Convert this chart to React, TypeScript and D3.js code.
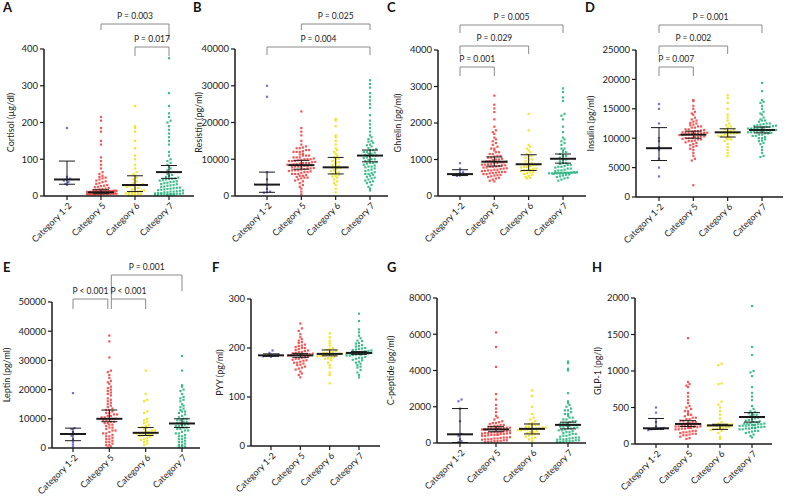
import React from "react";
import * as d3 from "d3";

// ---------- categories & ticks ----------
const categories = ["Category 1-2", "Category 5", "Category 6", "Category 7"];

// ---------- A: Cortisol ----------
const cortisolTicks = [0, 100, 200, 300, 400];
const cortisol12 = [185, 52, 47, 45, 42, 38, 33, 30];
const cortisol5 = [215, 205, 185, 175, 150, 140, 105, 95, 85, 75, 65, 60, 55, 52, 50, 48, 45, 42, 40, 38, 35, 33, 30, 28, 27, 25, 24, 22, 20, 19, 18, 17, 16, 15, 15, 14, 13, 12, 12, 12, 11, 10, 10, 10, 9, 9, 8, 8, 8, 7, 7, 6, 6, 6, 5, 5, 5, 4, 4, 4, 4, 3, 3, 3, 2, 2, 2, 1, 1, 1, 14, 11, 9, 7, 5, 3];
const cortisol6 = [245, 190, 185, 175, 150, 130, 110, 100, 85, 75, 65, 60, 55, 50, 45, 40, 35, 32, 30, 30, 28, 28, 25, 22, 20, 18, 15, 12, 10, 8, 7, 5, 4, 3, 2, 6, 9, 14];
const cortisol7 = [375, 280, 245, 225, 215, 205, 200, 190, 180, 170, 160, 150, 140, 120, 110, 100, 95, 90, 85, 80, 75, 70, 65, 60, 55, 50, 48, 46, 45, 42, 40, 38, 35, 32, 30, 28, 25, 22, 20, 18, 16, 15, 13, 12, 10, 8, 7, 6, 5, 5, 4, 3, 3, 2, 2, 1, 1, 2, 4, 6, 8, 10, 12, 14, 17, 19, 21, 23, 26, 29, 33, 36, 39, 43, 47, 52, 57];
const cortisolMed = [45, 10, 30, 65];
const cortisolLo = [32, 6, 12, 48];
const cortisolHi = [95, 17, 55, 83];

// ---------- B: Resistin ----------
const resistinTicks = [0, 10000, 20000, 30000, 40000];
const resistin12 = [30000, 27000, 6500, 4500, 3000, 2000, 1200, 1000, 900];
const resistin5 = [23000, 18500, 17500, 16500, 15000, 14000, 13500, 13000, 13000, 12500, 12500, 12000, 12000, 11500, 11000, 11000, 10500, 10500, 10000, 10000, 9800, 9500, 9500, 9200, 9000, 9000, 8800, 8600, 8500, 8400, 8200, 8000, 8000, 7800, 7600, 7500, 7300, 7000, 7000, 6800, 6500, 6300, 6000, 6000, 5700, 5500, 5200, 5000, 4800, 4500, 4200, 4000, 3500, 3000, 2500, 2000, 1200, 500, 8000, 8500, 9000, 9500, 10000, 10500, 11000, 12000, 7000, 7500, 6500, 6000, 5500, 8200, 8700, 9300, 9700, 10200, 11300, 12200, 13200, 7200, 6700, 5000];
const resistin6 = [21000, 20500, 19000, 16500, 16000, 15000, 14000, 13000, 12500, 12000, 11000, 10500, 10000, 9500, 9000, 8500, 8000, 7800, 7500, 7000, 6500, 6000, 5800, 5500, 5000, 4500, 4000, 3500, 3000, 2000, 1000, 7600, 8200, 9200, 10200, 6200, 6800, 5300, 11500];
const resistin7 = [31500, 30500, 29500, 28000, 27000, 26000, 25000, 24000, 22000, 20500, 19500, 18500, 17500, 16500, 16000, 15500, 15000, 14500, 14000, 13500, 13000, 12500, 12000, 12000, 11500, 11000, 11000, 10500, 10000, 10000, 9500, 9000, 9000, 8500, 8000, 8000, 7500, 7000, 6500, 6000, 6000, 5500, 5000, 4500, 4000, 3500, 3000, 2500, 2000, 1500, 12500, 11800, 11200, 10800, 10300, 9800, 9200, 8800, 8300, 7800, 7200, 6800, 6200, 5800, 5200, 4800, 4200, 3800, 13800, 14800, 12800, 11500];
const resistinMed = [3100, 8400, 7800, 11000];
const resistinLo = [1000, 7300, 6000, 9300];
const resistinHi = [6500, 9700, 10500, 12500];

// ---------- C: Ghrelin ----------
const ghrelinTicks = [0, 1000, 2000, 3000, 4000];
const ghrelin12 = [900, 750, 650, 620, 600, 580, 560, 550];
const ghrelin5 = [2750, 2500, 2400, 2300, 2100, 1900, 1800, 1750, 1700, 1600, 1550, 1500, 1450, 1400, 1350, 1300, 1250, 1200, 1150, 1100, 1080, 1050, 1020, 1000, 980, 960, 940, 920, 900, 880, 860, 840, 820, 800, 780, 760, 740, 720, 700, 680, 660, 640, 620, 600, 580, 560, 540, 520, 500, 480, 450, 420, 400, 950, 900, 870, 840, 810, 780, 750, 720, 690, 660, 630, 600, 570, 1000, 1050, 1100, 1150, 1200, 1300, 920, 860, 800, 700, 650];
const ghrelin6 = [2250, 1800, 1400, 1350, 1300, 1250, 1200, 1150, 1100, 1050, 1000, 950, 900, 870, 850, 820, 800, 780, 750, 720, 700, 680, 650, 620, 600, 580, 550, 520, 500, 480, 900, 850, 800, 750, 700, 650, 1000, 1100];
const ghrelin7 = [2950, 2850, 2700, 2600, 2250, 2200, 2100, 1900, 1750, 1600, 1550, 1500, 1450, 1400, 1300, 1250, 1200, 1150, 1100, 1050, 1000, 950, 900, 880, 850, 820, 800, 780, 750, 720, 700, 680, 660, 650, 640, 630, 620, 610, 600, 590, 580, 560, 540, 520, 500, 480, 450, 420, 600, 610, 620, 630, 640, 650, 660, 620, 630, 700, 750, 800, 850, 900, 1000, 1100, 1200, 1300, 640, 610];
const ghrelinMed = [600, 940, 870, 1020];
const ghrelinLo = [560, 820, 700, 900];
const ghrelinHi = [720, 1070, 1130, 1150];

// ---------- D: Insulin ----------
const insulinTicks = [0, 5000, 10000, 15000, 20000, 25000];
const insulin12 = [15800, 15000, 12500, 10000, 9500, 8500, 8000, 6500, 5000, 3500];
const insulin5 = [16500, 16300, 15500, 15000, 14500, 14000, 13500, 13000, 12800, 12500, 12300, 12000, 12000, 11800, 11500, 11500, 11200, 11000, 11000, 10800, 10700, 10600, 10500, 10400, 10300, 10200, 10000, 10000, 9800, 9600, 9500, 9300, 9000, 8800, 8500, 8200, 8000, 7500, 7000, 6500, 6200, 2000, 10600, 10500, 10700, 10800, 11000, 11200, 11400, 10400, 10200, 10000, 9800, 9500, 11800, 12200, 12600, 9200, 8700, 10900, 11100, 11300, 10300, 9900, 13200, 14200];
const insulin6 = [17300, 16800, 16000, 15000, 14000, 13500, 13000, 12500, 12000, 11800, 11500, 11200, 11000, 10900, 10800, 10600, 10400, 10200, 10000, 9800, 9500, 9000, 8500, 8000, 7500, 7000, 11000, 10800, 11200, 10600, 11400, 10400, 9800, 12200];
const insulin7 = [19400, 18000, 16500, 16200, 16000, 15500, 15000, 14500, 14200, 14000, 13500, 13200, 13000, 12800, 12500, 12300, 12100, 12000, 11800, 11700, 11600, 11500, 11400, 11300, 11200, 11100, 11000, 10900, 10800, 10600, 10400, 10200, 10000, 9800, 9500, 9200, 9000, 8500, 8000, 7500, 7000, 6800, 11500, 11400, 11300, 11200, 11600, 11800, 12000, 12200, 10800, 10600, 10400, 11000, 11100, 11700, 12500, 13000, 10000, 9600, 12400, 11900];
const insulinMed = [8300, 10600, 11000, 11400];
const insulinLo = [6200, 10000, 10200, 10900];
const insulinHi = [11800, 11200, 11600, 11900];

// ---------- E: Leptin ----------
const leptinTicks = [0, 10000, 20000, 30000, 40000, 50000];
const leptin12 = [18800, 6800, 6500, 5500, 4800, 4200, 3000, 2000, 1200, 500];
const leptin5 = [38500, 36500, 31000, 26500, 26000, 25000, 24000, 23000, 22000, 21000, 20000, 19500, 19000, 18000, 17000, 16000, 15500, 15000, 14000, 13500, 13000, 12500, 12000, 11500, 11000, 10500, 10000, 10000, 9500, 9000, 8500, 8000, 7500, 7000, 6500, 6000, 5500, 5000, 4500, 4000, 3500, 3000, 2500, 2000, 1500, 1000, 500, 200, 10000, 9500, 9000, 11000, 12000, 13000, 8000, 7000, 6000, 5000, 4000, 3000, 2000, 1000, 14500, 16500, 18500, 20500, 22500, 10500, 11500, 8500];
const leptin6 = [26500, 18500, 16500, 16000, 12500, 12000, 10000, 9500, 8500, 8000, 7500, 7000, 6500, 6000, 5500, 5200, 5000, 4800, 4500, 4200, 4000, 3500, 3000, 2500, 2000, 1500, 1000, 5000, 5500, 4500, 6000, 3800, 7200, 2800, 9000];
const leptin7 = [31500, 26500, 21500, 21000, 20000, 19500, 18500, 17500, 17000, 16000, 15000, 14000, 13000, 12500, 12000, 11000, 10500, 10000, 9500, 9000, 8500, 8200, 8000, 7500, 7000, 6500, 6000, 5500, 5000, 4500, 4000, 3500, 3000, 2500, 2000, 1500, 1000, 500, 300, 8500, 8000, 9000, 9500, 10000, 7500, 7000, 6000, 5000, 4000, 3000, 2000, 1000, 500, 11500, 12500, 14500, 16500, 13500, 6500];
const leptinMed = [4800, 10000, 5200, 8400];
const leptinLo = [2500, 9000, 4300, 7000];
const leptinHi = [6800, 13000, 7000, 10000];

// ---------- F: PYY ----------
const pyyTicks = [0, 100, 200, 300];
const pyy12 = [195, 190, 187, 186, 185, 185, 184, 183, 182];
const pyy5 = [250, 240, 235, 228, 222, 218, 215, 210, 207, 204, 202, 200, 198, 196, 194, 192, 190, 189, 188, 187, 186, 186, 185, 185, 184, 184, 183, 183, 182, 181, 180, 178, 176, 174, 172, 170, 168, 165, 162, 160, 156, 152, 148, 145, 140, 192, 178, 195, 175, 200, 170, 205, 166, 212, 158];
const pyy6 = [230, 222, 215, 210, 205, 200, 198, 196, 194, 192, 190, 189, 188, 188, 187, 187, 186, 186, 185, 184, 183, 182, 180, 178, 175, 170, 165, 160, 150, 145, 128, 192, 179];
const pyy7 = [270, 255, 238, 232, 225, 220, 215, 210, 206, 203, 200, 198, 196, 195, 194, 193, 192, 191, 190, 190, 189, 189, 188, 188, 187, 187, 186, 186, 185, 184, 183, 182, 180, 178, 175, 172, 168, 165, 160, 155, 150, 145, 140, 197, 183, 199, 180, 204, 176, 209, 170, 214, 162];
const pyyMed = [185, 185, 188, 190];
const pyyLo = [183, 181, 184, 187];
const pyyHi = [188, 189, 196, 193];

// ---------- G: C-peptide ----------
const cpepTicks = [0, 2000, 4000, 6000, 8000];
const cpep12 = [2400, 2300, 1900, 1200, 500, 400, 200, 100, 50];
const cpep5 = [6100, 5300, 4200, 2700, 2400, 2100, 1900, 1700, 1500, 1400, 1300, 1200, 1150, 1100, 1050, 1000, 950, 900, 850, 800, 780, 760, 740, 720, 700, 680, 650, 620, 600, 580, 550, 520, 500, 480, 450, 420, 400, 380, 350, 320, 300, 280, 250, 220, 200, 180, 150, 120, 100, 80, 50, 750, 700, 650, 600, 550, 500, 450, 400, 350, 300, 800, 850, 900, 950, 1000, 1100, 250, 200, 150, 100, 50, 750];
const cpep6 = [2900, 2600, 2000, 1600, 1400, 1300, 1200, 1100, 1050, 1000, 950, 900, 850, 800, 780, 760, 740, 700, 650, 600, 550, 500, 450, 400, 350, 300, 250, 200, 100, 800, 750, 700, 850, 900, 600, 500, 1000];
const cpep7 = [4500, 4400, 4100, 4000, 2750, 2300, 2200, 2100, 2000, 1900, 1800, 1700, 1600, 1500, 1400, 1300, 1200, 1150, 1100, 1050, 1000, 950, 900, 850, 800, 750, 700, 650, 600, 550, 500, 450, 400, 350, 300, 280, 250, 220, 200, 180, 150, 120, 100, 80, 50, 1000, 950, 900, 850, 800, 700, 600, 500, 400, 300, 200, 150, 100, 50, 1100, 1200, 1300, 1400, 1600, 1800];
const cpepMed = [480, 750, 780, 1000];
const cpepLo = [30, 620, 500, 780];
const cpepHi = [1900, 900, 1050, 1150];

// ---------- H: GLP-1 ----------
const glpTicks = [0, 500, 1000, 1500, 2000];
const glp12 = [500, 430, 300, 240, 220, 215, 210, 205, 200, 190];
const glp5 = [1450, 850, 820, 800, 780, 700, 650, 600, 560, 520, 500, 480, 450, 420, 400, 380, 360, 340, 320, 300, 290, 280, 275, 270, 265, 260, 250, 240, 230, 220, 210, 200, 190, 180, 170, 160, 150, 140, 130, 120, 100, 80, 70, 280, 270, 260, 250, 240, 230, 220, 210, 200, 190, 180, 300, 320, 340, 360, 160, 140, 120, 400, 450];
const glp6 = [1100, 1080, 830, 820, 580, 540, 500, 450, 400, 350, 300, 280, 270, 265, 260, 255, 250, 245, 240, 230, 220, 210, 200, 190, 180, 150, 100, 70, 255, 250, 260, 245, 240, 265, 230, 220];
const glp7 = [1890, 1330, 1220, 1000, 980, 930, 780, 700, 650, 600, 520, 480, 450, 420, 400, 380, 360, 340, 320, 300, 280, 270, 260, 250, 245, 240, 235, 230, 225, 220, 210, 200, 190, 180, 170, 160, 150, 130, 110, 90, 370, 350, 330, 310, 290, 270, 250, 240, 230, 220, 210, 200, 190, 180, 400, 420, 440, 260, 280, 300];
const glpMed = [215, 275, 255, 370];
const glpLo = [200, 240, 200, 300];
const glpHi = [350, 320, 270, 430];

// ---------- significance labels ----------
const pLabelsA = ["P = 0.003", "P = 0.017"];
const pLabelsB = ["P = 0.025", "P = 0.004"];
const pLabelsC = ["P = 0.005", "P = 0.029", "P = 0.001"];
const pLabelsD = ["P = 0.001", "P = 0.002", "P = 0.007"];
const pLabelsE = ["P = 0.001", "P < 0.001", "P < 0.001"];

// ---------- styles / layout ----------
const COLORS = ["#5a5ad0", "#f03a3a", "#f0df00", "#1fb27a"];
const FONT = "Lato, 'Open Sans', sans-serif";

type Bracket = { from: number; to: number; text: string; y: number; legL: number; legR: number; dx?: number; dx2?: number };
type Panel = {
  letter: string; title: string; ticks: number[]; groups: number[][];
  med: number[]; lo: number[]; hi: number[];
  axisX: number; axisEnd: number; yTop: number; yBot: number; c0: number; c1: number;
  lx: number; ly: number; tx: number; maxRow: number; brackets: Bracket[];
};

const panels: Panel[] = [
  { letter: "A", title: "Cortisol (µg/dl)", ticks: cortisolTicks, groups: [cortisol12, cortisol5, cortisol6, cortisol7], med: cortisolMed, lo: cortisolLo, hi: cortisolHi,
    axisX: 44, axisEnd: 194, yTop: 49, yBot: 196, c0: 67, c1: 169, lx: 3, ly: 12, tx: 11, maxRow: 10,
    brackets: [
      { from: 1, to: 3, text: pLabelsA[0], y: 24, legL: 6, legR: 16 },
      { from: 2, to: 3, text: pLabelsA[1], y: 47, legL: 9, legR: 9 },
    ] },
  { letter: "B", title: "Resistin (pg/ml)", ticks: resistinTicks, groups: [resistin12, resistin5, resistin6, resistin7], med: resistinMed, lo: resistinLo, hi: resistinHi,
    axisX: 235, axisEnd: 388, yTop: 49, yBot: 196, c0: 267, c1: 370, lx: 193, ly: 12, tx: 199, maxRow: 10,
    brackets: [
      { from: 1, to: 3, text: pLabelsB[0], y: 24, legL: 6, legR: 6 },
      { from: 0, to: 3, text: pLabelsB[1], y: 47, legL: 8, legR: 8 },
    ] },
  { letter: "C", title: "Ghrelin (pg/ml)", ticks: ghrelinTicks, groups: [ghrelin12, ghrelin5, ghrelin6, ghrelin7], med: ghrelinMed, lo: ghrelinLo, hi: ghrelinHi,
    axisX: 438, axisEnd: 586, yTop: 50, yBot: 196, c0: 460, c1: 563, lx: 387, ly: 12, tx: 398, maxRow: 10,
    brackets: [
      { from: 0, to: 3, text: pLabelsC[0], y: 25, legL: 8, legR: 8 },
      { from: 0, to: 2, text: pLabelsC[1], y: 46, legL: 8, legR: 8 },
      { from: 0, to: 1, text: pLabelsC[2], y: 67, legL: 9, legR: 9 },
    ] },
  { letter: "D", title: "Insulin (pg/ml)", ticks: insulinTicks, groups: [insulin12, insulin5, insulin6, insulin7], med: insulinMed, lo: insulinLo, hi: insulinHi,
    axisX: 636, axisEnd: 783, yTop: 50, yBot: 197, c0: 659, c1: 762, lx: 585, ly: 12, tx: 591, maxRow: 10,
    brackets: [
      { from: 0, to: 3, text: pLabelsD[0], y: 25, legL: 8, legR: 8 },
      { from: 0, to: 2, text: pLabelsD[1], y: 46, legL: 8, legR: 8 },
      { from: 0, to: 1, text: pLabelsD[2], y: 67, legL: 9, legR: 9 },
    ] },
  { letter: "E", title: "Leptin (pg/ml)", ticks: leptinTicks, groups: [leptin12, leptin5, leptin6, leptin7], med: leptinMed, lo: leptinLo, hi: leptinHi,
    axisX: 52, axisEnd: 200, yTop: 302, yBot: 448, c0: 73, c1: 182, lx: 3, ly: 272, tx: 7, maxRow: 10,
    brackets: [
      { from: 1, to: 3, text: pLabelsE[0], y: 275, legL: 24, legR: 16, dx: 2 },
      { from: 0, to: 1, text: pLabelsE[1], y: 299, legL: 10, legR: 10, dx2: -1.5 },
      { from: 1, to: 2, text: pLabelsE[2], y: 299, legL: 10, legR: 10, dx: 2 },
    ] },
  { letter: "F", title: "PYY (pg/ml)", ticks: pyyTicks, groups: [pyy12, pyy5, pyy6, pyy7], med: pyyMed, lo: pyyLo, hi: pyyHi,
    axisX: 251, axisEnd: 380, yTop: 299, yBot: 446, c0: 271, c1: 359, lx: 212, ly: 272, tx: 220, maxRow: 9, brackets: [] },
  { letter: "G", title: "C-peptide (pg/ml)", ticks: cpepTicks, groups: [cpep12, cpep5, cpep6, cpep7], med: cpepMed, lo: cpepLo, hi: cpepHi,
    axisX: 437, axisEnd: 586, yTop: 298, yBot: 443, c0: 460, c1: 568, lx: 387, ly: 272, tx: 391, maxRow: 10, brackets: [] },
  { letter: "H", title: "GLP-1 (pg/l)", ticks: glpTicks, groups: [glp12, glp5, glp6, glp7], med: glpMed, lo: glpLo, hi: glpHi,
    axisX: 635, axisEnd: 772, yTop: 298, yBot: 444, c0: 656, c1: 752, lx: 592, ly: 272, tx: 598, maxRow: 9, brackets: [] },
];

// GraphPad-like swarm: points binned into thin horizontal rows, spread symmetrically
function swarm(vals: number[], y: (v: number) => number, cx: number, gap: number, rowH: number, maxRow: number) {
  const pts = vals.map((v) => ({ v, py: y(v) }));
  const rows = d3.groups(pts, (d) => Math.round(d.py / rowH));
  const out: { x: number; y: number }[] = [];
  for (const [, row] of rows) {
    row.sort((a, b) => a.v - b.v);
    const chunks = Math.ceil(row.length / maxRow);
    for (let c = 0; c < chunks; c++) {
      const part = row.slice(c * maxRow, (c + 1) * maxRow);
      const n = part.length;
      const yOff = (c - (chunks - 1) / 2) * 1.6;
      const xOff = c % 2 === 1 ? gap / 2 : 0;
      part.forEach((d, i) => out.push({ x: cx + (i - (n - 1) / 2) * gap + xOff, y: d.py + yOff }));
    }
  }
  return out;
}

function PanelView({ p }: { p: Panel }) {
  const max = p.ticks[p.ticks.length - 1];
  const y = d3.scaleLinear().domain([0, max]).range([p.yBot, p.yTop]);
  const x = d3.scalePoint<number>().domain([0, 1, 2, 3]).range([p.c0, p.c1]);
  const mid = (p.yTop + p.yBot) / 2;
  return (
    <g>
      <text x={p.lx} y={p.ly} fontSize={13} fontWeight="bold" fontFamily={FONT} fill="#111">{p.letter}</text>
      <text transform={`translate(${p.tx},${mid}) rotate(-90)`} textAnchor="middle" dy="0.35em" fontSize={9} fontFamily={FONT} fill="#222">{p.title}</text>
      {p.groups.map((g, gi) => swarm(g, y, x(gi)!, 3.1, 3.2, p.maxRow).map((pt, i) => (
        <rect key={`${gi}-${i}`} x={pt.x - 1.1} y={pt.y - 1.1} width={2.2} height={2.2} fill={COLORS[gi]} opacity={0.85} />
      )))}
      {categories.map((_, gi) => {
        const cx = x(gi)!;
        return (
          <g key={gi} stroke="#1a1a1a">
            <line x1={cx} x2={cx} y1={y(p.lo[gi])} y2={y(p.hi[gi])} strokeWidth={1} />
            <line x1={cx - 8} x2={cx + 8} y1={y(p.lo[gi])} y2={y(p.lo[gi])} strokeWidth={1} />
            <line x1={cx - 8} x2={cx + 8} y1={y(p.hi[gi])} y2={y(p.hi[gi])} strokeWidth={1} />
            <line x1={cx - 13} x2={cx + 13} y1={y(p.med[gi])} y2={y(p.med[gi])} strokeWidth={2} />
          </g>
        );
      })}
      <line x1={p.axisX} x2={p.axisX} y1={p.yTop} y2={p.yBot} stroke="#1a1a1a" strokeWidth={1.5} />
      <line x1={p.axisX} x2={p.axisEnd} y1={p.yBot} y2={p.yBot} stroke="#1a1a1a" strokeWidth={1.5} />
      {p.ticks.map((t) => (
        <g key={t}>
          <line x1={p.axisX - 4} x2={p.axisX} y1={y(t)} y2={y(t)} stroke="#1a1a1a" strokeWidth={1.2} />
          <text x={p.axisX - 6} y={y(t)} dy="0.35em" textAnchor="end" fontSize={9.5} fontFamily={FONT} fill="#222">{t}</text>
        </g>
      ))}
      {categories.map((c, gi) => {
        const cx = x(gi)!;
        return (
          <g key={c}>
            <line x1={cx} x2={cx} y1={p.yBot} y2={p.yBot + 4} stroke="#1a1a1a" strokeWidth={1.2} />
            <text transform={`translate(${cx + 3},${p.yBot + 8}) rotate(-45)`} textAnchor="end" dy="0.35em" fontSize={9} fontFamily={FONT} fill="#222">{c}</text>
          </g>
        );
      })}
      {p.brackets.map((b, i) => {
        const x1 = x(b.from)! + (b.dx ?? 0);
        const x2 = x(b.to)! + (b.dx2 ?? 0);
        return (
          <g key={i}>
            <path d={`M${x1},${b.y + b.legL}V${b.y}H${x2}V${b.y + b.legR}`} fill="none" stroke="#8a8a8a" strokeWidth={1} />
            <text x={(x1 + x2) / 2} y={b.y - 5} textAnchor="middle" fontSize={8.5} fontFamily={FONT} fill="#222">{b.text}</text>
          </g>
        );
      })}
    </g>
  );
}

export default function App() {
  return (
    <svg width={786} height={499} style={{ position: "absolute", left: 0, top: 0, background: "#fff" }}>
      {panels.map((p) => <PanelView key={p.letter} p={p} />)}
    </svg>
  );
}
